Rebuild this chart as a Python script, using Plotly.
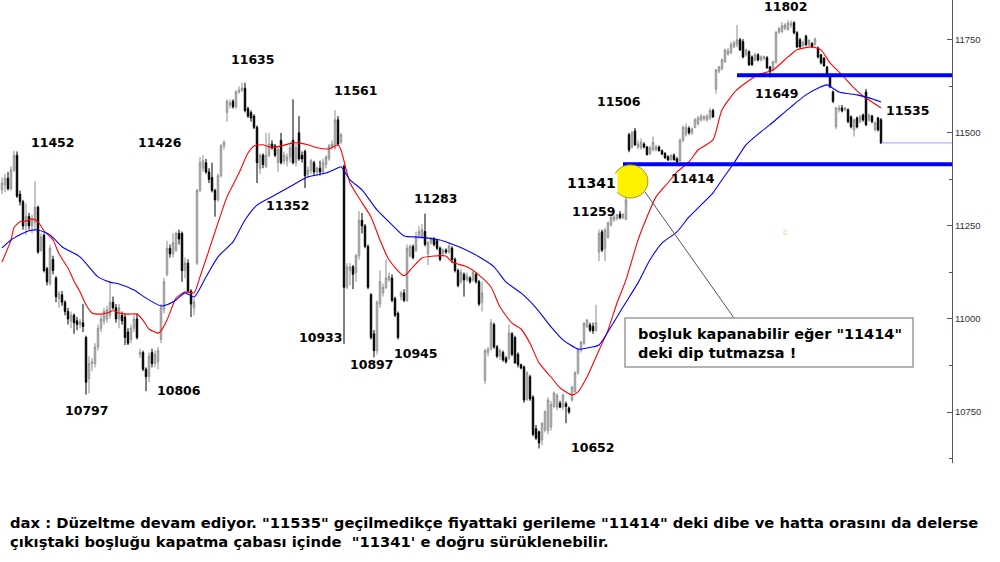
import plotly.graph_objects as go

# ---------------- candle data (price, by bar index) ----------------
open_a = [11347,11360,11378,11350,11400,11440,11335,11315,11250,11275,11250,11260,11300,11185,11225,11135,11095,11160,11110,11055,11065,11045,11020,10995,11010,10995,10985,10990,10950,10840,10880,10880,10925,10975,10995,11000,11010,11045,11030,11000,11010,11005,10965,10945,10975,11000,10905,10910,10865,10845,10910,10880,10885,10945,11025,11120,11190,11175,11185,11230]
high_a = [11380,11390,11395,11410,11452,11450,11345,11320,11310,11285,11280,11370,11305,11230,11230,11140,11200,11170,11115,11075,11075,11050,11030,11020,11015,11005,11000,11040,10955,10900,10895,10935,10985,11010,11030,11035,11100,11060,11040,11040,11020,11015,10975,10985,11010,11015,10920,10915,10870,10910,10920,10915,10925,11040,11110,11210,11200,11230,11235,11240]
low_a = [11335,11340,11345,11345,11395,11325,11305,11240,11225,11240,11230,11240,11175,11180,11125,11090,11090,11120,11045,11030,11035,11010,10985,10975,10960,10970,10975,10965,10797,10800,10860,10870,10915,10965,10985,10990,11000,11025,10990,10975,10985,10930,10930,10935,10965,10945,10895,10860,10806,10830,10870,10870,10865,10935,11015,11115,11165,11165,11180,11200]
close_a = [11365,11378,11350,11400,11440,11330,11315,11250,11275,11250,11265,11300,11180,11220,11130,11100,11190,11130,11060,11068,11045,11020,11000,11010,10990,10985,10992,10980,10830,10880,10885,10925,10975,11000,11020,11025,11045,11030,11000,11030,10995,10950,10935,10975,11000,10950,10910,10865,10845,10900,10880,10905,10915,11030,11100,11190,11175,11205,11230,11215]

open_b = [11230,11130,11150,11075,11030,11150,11345,11405,11420,11395,11380,11345,11320,11385,11465,11555,11575,11585,11570,11610,11615,11620,11565,11555,11545,11515,11405,11440,11410,11440,11470,11465,11420,11480,11425,11425,11435,11480,11420,11500,11440,11450,11390,11400,11420,11395,11405,11395,11415,11430,11460,11460,11535,11476]
high_b = [11235,11165,11160,11080,11055,11350,11435,11440,11430,11405,11420,11350,11390,11470,11480,11590,11590,11590,11615,11625,11635,11635,11570,11560,11550,11520,11445,11445,11500,11500,11480,11470,11460,11500,11450,11445,11470,11590,11470,11545,11450,11455,11410,11430,11425,11410,11425,11430,11440,11470,11480,11561,11545,11500]
low_b = [11100,11110,11070,11005,11010,11145,11340,11395,11390,11365,11340,11275,11315,11380,11455,11530,11565,11565,11565,11605,11610,11555,11540,11530,11510,11365,11390,11405,11405,11435,11455,11435,11395,11415,11415,11410,11420,11415,11410,11425,11420,11352,11380,11390,11385,11385,11385,11390,11405,11425,11455,11455,11465,11470]
close_b = [11130,11150,11075,11040,11045,11345,11420,11425,11395,11375,11345,11320,11385,11465,11475,11585,11580,11570,11610,11615,11620,11560,11545,11540,11515,11420,11440,11415,11440,11470,11460,11440,11455,11420,11440,11435,11460,11420,11460,11430,11430,11385,11400,11425,11395,11405,11395,11420,11435,11465,11470,11535,11470,11495]

open_c = [11410,11085,11130,11140,11125,11170,11265,11250,11195,11065,10960,10915,11040,11070,11085,11105,11110,11055,11015,11060,11070,11050,11170,11195,11185,11225,11220,11235,11175,11205,11215,11210,11190,11175,11185,11180,11190,11160,11130,11100,11120,11105,11110,11105,11120,11100,11045]
high_c = [11415,11150,11150,11145,11175,11290,11285,11255,11200,11070,10970,11050,11130,11095,11160,11125,11120,11060,11020,11075,11080,11200,11200,11200,11235,11250,11255,11283,11210,11220,11220,11215,11195,11190,11190,11205,11195,11165,11135,11135,11125,11125,11115,11130,11125,11105,11100]
low_c = [10933,11080,11090,11080,11100,11160,11230,11190,11080,10945,10897,10905,11030,11060,11080,11100,11045,11005,10945,11050,11045,11045,11165,11160,11180,11215,11215,11195,11145,11200,11195,11185,11155,11170,11175,11175,11150,11125,11085,11095,11060,11100,11095,11100,11095,11035,11020]
close_c = [11085,11140,11140,11120,11170,11265,11250,11195,11085,10950,10915,11045,11100,11085,11110,11115,11050,11010,10950,11070,11050,11190,11195,11165,11220,11235,11240,11200,11205,11215,11200,11190,11160,11185,11180,11195,11160,11130,11090,11125,11105,11115,11100,11125,11100,11040,11070]

open_d = [10835,10910,10920,10985,10925,10900,10910,10895,10895,10960,10950,10905,10877,10871,10785,10845,10790,10705,10697,10675,10702,10700,10710,10765,10763,10774,10763,10772,10761,10782,10805,10855,10917,10935,10980,10984,10980,10970]
high_d = [10920,10925,11000,10990,10930,10920,10915,10900,10985,10965,10955,10910,10880,10875,10860,10850,10795,10715,10700,10722,10755,10790,10780,10805,10800,10780,10800,10778,10765,10820,10860,10920,10940,10990,11000,10990,10990,11038]
low_d = [10825,10900,10915,10920,10895,10890,10885,10880,10890,10900,10880,10870,10865,10775,10780,10780,10685,10675,10652,10660,10695,10690,10700,10760,10755,10760,10755,10720,10745,10778,10800,10850,10910,10930,10975,10965,10960,10965]
close_d = [10915,10918,10990,10925,10900,10915,10890,10885,10962,10905,10882,10877,10868,10782,10855,10785,10690,10680,10667,10720,10750,10782,10770,10801,10795,10763,10795,10765,10750,10817,10855,10917,10938,10989,10997,10970,10968,10990]

open_e = [11180,11234,11190,11220,11253,11265,11270,11282,11272,11268,11495,11462,11505,11462,11460,11470,11462,11445,11455,11455,11462,11452,11445,11436,11428,11440,11430,11425,11480,11495,11512,11500,11515,11525,11535,11538,11535,11540,11560]
high_e = [11240,11240,11245,11262,11280,11280,11282,11290,11285,11341,11500,11505,11513,11480,11485,11475,11465,11465,11490,11468,11466,11455,11448,11440,11442,11445,11435,11485,11520,11525,11518,11515,11540,11545,11550,11548,11550,11567,11565]
low_e = [11155,11180,11155,11215,11248,11262,11265,11268,11268,11265,11448,11458,11465,11455,11455,11458,11440,11440,11450,11450,11450,11440,11430,11425,11425,11425,11414,11420,11475,11490,11495,11495,11512,11520,11530,11532,11530,11535,11540]
close_e = [11230,11185,11239,11258,11274,11274,11280,11272,11280,11320,11454,11500,11468,11470,11475,11462,11441,11460,11475,11462,11452,11443,11433,11427,11440,11428,11422,11480,11515,11515,11500,11510,11535,11540,11545,11543,11545,11560,11543]

open_f = [11618,11666,11672,11691,11712,11715,11731,11737,11750,11745,11710,11718,11704,11696,11710,11696,11700,11702,11677,11669,11690,11771,11772,11780,11778,11790,11796,11769,11750,11735,11760,11737,11740,11738,11728,11710,11700,11677,11656,11610,11516,11562,11567,11562,11562,11543,11508,11540,11530,11548,11610,11535,11545,11508,11540,11535]
high_f = [11672,11680,11700,11726,11728,11745,11748,11790,11755,11752,11726,11722,11708,11715,11714,11708,11708,11706,11680,11694,11772,11785,11798,11795,11802,11802,11800,11773,11755,11748,11764,11752,11744,11756,11732,11712,11704,11680,11660,11614,11570,11575,11575,11570,11566,11547,11538,11544,11548,11552,11618,11552,11549,11530,11543,11540]
low_f = [11605,11660,11668,11688,11708,11712,11728,11730,11720,11700,11705,11680,11680,11692,11692,11692,11695,11672,11649,11665,11686,11766,11768,11776,11774,11782,11765,11728,11728,11730,11733,11733,11728,11734,11700,11684,11678,11652,11620,11580,11510,11555,11555,11558,11526,11512,11490,11512,11526,11530,11518,11530,11526,11504,11504,11470]
close_f = [11669,11677,11696,11723,11720,11737,11742,11750,11723,11704,11723,11683,11683,11710,11696,11704,11705,11675,11664,11691,11771,11780,11788,11790,11795,11793,11769,11731,11731,11742,11737,11748,11731,11752,11704,11688,11680,11656,11624,11585,11567,11567,11559,11567,11530,11516,11535,11516,11543,11535,11522,11548,11530,11527,11508,11473]

# moving averages (bar index, price)
red_idx = [0,3,4,6,8,10,12,14,17,19,22,24,26,28,30,33,35,37,39,42,45,47,49,52,53,55,57,58,61,64,66,69,72,75,79,82,84,87,90,93,97,99,102,105,109,112,113,116,119,123,126,129,134,137,140,144,148,150,155,159,163,166,170,173,176,179,183,186,190,192,195,198,202,205,208,212,215,218,222,225,229,232,237,240,245,252,257,262,265,270,273,276,280,284,287,290,293]
red_val = [11153,11212,11245,11261,11263,11269,11261,11237,11212,11175,11137,11102,11073,11038,11016,11013,11016,11022,11016,11013,11013,10997,10973,10962,10968,10997,11038,11056,11073,11070,11113,11185,11258,11328,11392,11446,11465,11468,11460,11465,11473,11473,11468,11460,11457,11468,11454,11366,11325,11274,11212,11159,11116,11140,11164,11169,11169,11153,11140,11118,11086,11032,10989,10973,10935,10882,10844,10815,10796,10804,10844,10898,10970,11043,11105,11212,11274,11328,11366,11395,11422,11454,11481,11562,11616,11656,11669,11704,11723,11731,11723,11688,11656,11621,11599,11583,11567]
blue_idx = [0,3,6,9,12,16,20,26,32,36,39,44,48,53,55,58,61,64,68,72,77,81,85,91,97,102,108,112,113,116,120,125,130,134,139,146,149,154,159,164,168,173,178,183,187,192,195,199,203,207,212,216,220,225,229,237,240,244,248,253,256,263,268,273,275,279,285,289,293]
blue_val = [11191,11212,11226,11237,11239,11226,11194,11167,11113,11099,11094,11078,11056,11035,11038,11051,11070,11059,11113,11167,11207,11266,11306,11333,11360,11382,11392,11406,11409,11374,11347,11293,11253,11223,11220,11212,11204,11188,11167,11140,11099,11070,11030,10979,10944,10919,10922,10930,10979,11032,11097,11159,11204,11234,11274,11339,11374,11419,11468,11503,11522,11570,11602,11624,11629,11610,11602,11594,11583]

# price levels
level_vals = [11655, 11416]
level_start = [245, 207]
last_price = 11473

# axis ticks
tick_vals = [10750, 11000, 11250, 11500, 11750]
tick_text = ["10750", "11000", "11250", "11500", "11750"]
minor_vals = [10625, 10875, 11125, 11375, 11625]

# pivot labels
pivot_text = ["11452", "11426", "11635", "11561", "11352", "10933", "10897", "10945", "11283",
              "10797", "10806", "10652", "11259", "11506", "11414", "11649", "11802", "11535"]
note_box = ['boşluk kapanabilir eğer "11414"', 'deki dip tutmazsa !']
bottom_text = ['dax : Düzeltme devam ediyor. "11535" geçilmedikçe fiyattaki gerileme "11414" deki dibe ve hatta orasını da delerse',
               'çıkıştaki boşluğu kapatma çabası içinde \u00a0"11341\' e doğru sürüklenebilir.']

opens = open_a + open_b + open_c + open_d + open_e + open_f
highs = high_a + high_b + high_c + high_d + high_e + high_f
lows = low_a + low_b + low_c + low_d + low_e + low_f
closes = close_a + close_b + close_c + close_d + close_e + close_f
bars = list(range(len(opens)))

# ---------------- layout geometry ----------------
W, H = 1000, 562
PW, PH = 952, 463
BAR_PX = 3.0
X0 = -2 / BAR_PX
X1 = X0 + PW / BAR_PX
Y0, Y1 = 10613, 11857

def pp(x, y):
    return x / PW, 1 - y / PH

FONT = "DejaVu Sans"

fig = go.Figure()
fig.add_trace(go.Candlestick(
    x=bars, open=opens, high=highs, low=lows, close=closes,
    increasing=dict(line=dict(color="#8c8c8c", width=1), fillcolor="#f0f0f0"),
    decreasing=dict(line=dict(color="#000000", width=1), fillcolor="#000000"),
    whiskerwidth=0, showlegend=False, hoverinfo="skip"))
fig.add_trace(go.Scatter(x=red_idx, y=red_val, mode="lines",
                         line=dict(color="#ff0000", width=1.1, shape="spline", smoothing=0.6),
                         showlegend=False, hoverinfo="skip"))
fig.add_trace(go.Scatter(x=blue_idx, y=blue_val, mode="lines",
                         line=dict(color="#0000ff", width=1.1, shape="spline", smoothing=0.6),
                         showlegend=False, hoverinfo="skip"))

shapes = []
for v, s in zip(level_vals, level_start):
    shapes.append(dict(type="line", xref="x", yref="y", x0=s, x1=X1, y0=v, y1=v,
                       line=dict(color="#0000ff", width=4)))
shapes.append(dict(type="line", xref="x", yref="y", x0=len(bars) - 1, x1=X1, y0=last_price, y1=last_price,
                   line=dict(color="#9a9aff", width=1)))
# yellow gap marker
shapes.append(dict(type="circle", xref="x", yref="y", x0=203.7, x1=215.3, y0=11325, y1=11414,
                   fillcolor="#fff200", line=dict(color="#9a9a30", width=1), layer="above"))
# connector
cx0, cy0 = pp(645, 192)
cx1, cy1 = pp(734, 318)
shapes.append(dict(type="line", xref="paper", yref="paper", x0=cx0, y0=cy0, x1=cx1, y1=cy1,
                   line=dict(color="#555555", width=1)))
# note box
bx0, by0 = pp(625, 367)
bx1, by1 = pp(913, 318)
shapes.append(dict(type="rect", xref="paper", yref="paper", x0=bx0, y0=by0, x1=bx1, y1=by1,
                   fillcolor="white", line=dict(color="#9a9a9a", width=1.5), layer="above"))

annotations = []
pivot_pos = [(52.5, 142), (160, 142), (253, 60), (355.5, 90), (288, 205), (321, 337), (372, 364),
             (416, 353), (435.5, 198), (87, 410), (179, 390), (593, 447), (594, 211), (619, 101),
             (693, 178), (776.5, 94), (785.5, 7), (908, 111)]
for t, (x, y) in zip(pivot_text, pivot_pos):
    ax, ay = pp(x, y)
    annotations.append(dict(text="<b>%s</b>" % t, x=ax, y=ay, xref="paper", yref="paper",
                            xanchor="center", yanchor="middle", showarrow=False, borderpad=0,
                            font=dict(family=FONT, size=12.5, color="#000000")))
ax, ay = pp(591, 183)
annotations.append(dict(text="<b>11341</b>", x=ax, y=ay, xref="paper", yref="paper",
                        xanchor="center", yanchor="middle", showarrow=False, bgcolor="white",
                        borderpad=1, font=dict(family=FONT, size=14, color="#000000")))
ax, ay = pp(789, 233)
annotations.append(dict(text="0", x=ax, y=ay, xref="paper", yref="paper", showarrow=False,
                        font=dict(family=FONT, size=7, color="#e6d98a")))
ax, ay = pp(636, 343)
annotations.append(dict(text="<b>%s<br>%s</b>" % (note_box[0], note_box[1]), x=ax, y=ay,
                        xref="paper", yref="paper", xanchor="left", yanchor="middle", align="left",
                        showarrow=False, font=dict(family=FONT, size=14.5, color="#000000")))
for i, t in enumerate(bottom_text):
    ax, ay = pp(8, 522 + 19 * i)
    annotations.append(dict(text="<b>%s</b>" % t, x=ax, y=ay, xref="paper", yref="paper",
                            xanchor="left", yanchor="middle", align="left", showarrow=False,
                            font=dict(family=FONT, size=14.75, color="#000000")))

fig.update_layout(
    width=W, height=H, margin=dict(l=0, r=W - PW, t=0, b=H - PH),
    paper_bgcolor="white", plot_bgcolor="white", showlegend=False,
    hovermode=False,
    shapes=shapes, annotations=annotations,
    xaxis=dict(range=[X0, X1], visible=False, showgrid=False, zeroline=False,
               rangeslider=dict(visible=False)),
    yaxis=dict(range=[Y0, Y1], side="right", showgrid=False, zeroline=False,
               showline=True, linecolor="#555555", linewidth=1,
               ticks="inside", ticklen=5, tickcolor="#555555",
               tickvals=tick_vals, ticktext=tick_text,
               tickfont=dict(family="Liberation Sans", size=9.5, color="#333333"),
               minor=dict(tickvals=minor_vals, ticks="inside", ticklen=3, tickcolor="#555555")),
)

fig.write_html("out.html", config={"displayModeBar": False},
               post_script="document.body.style.margin='0';document.body.style.overflow='hidden';")
